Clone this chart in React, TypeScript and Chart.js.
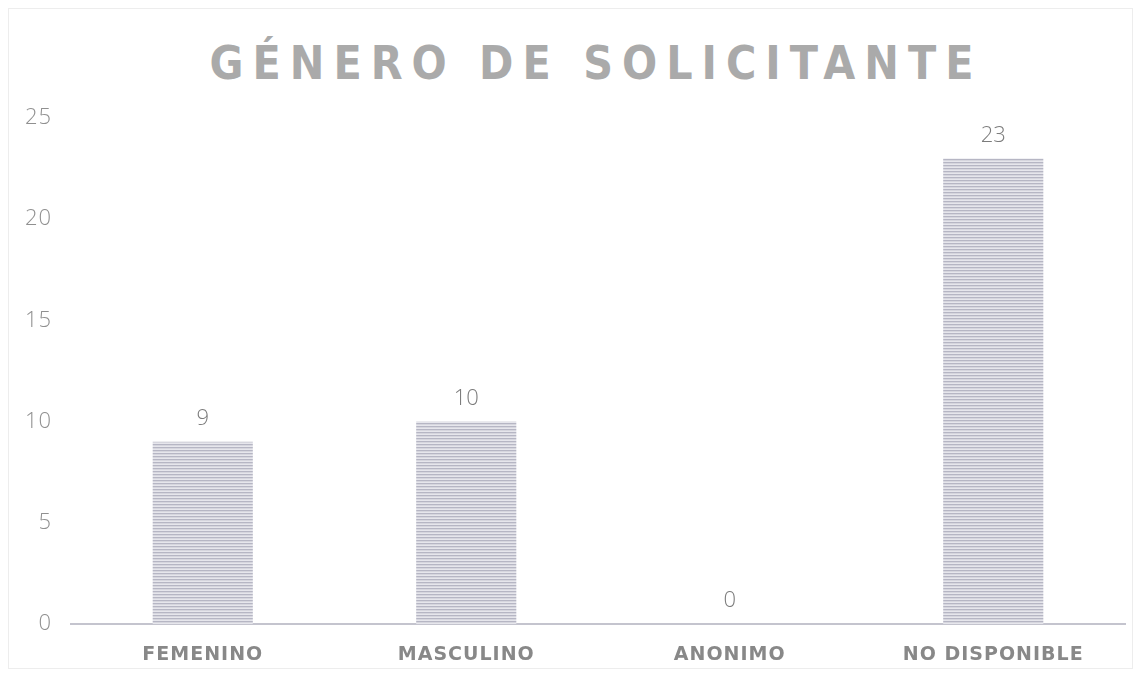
import React, { useEffect, useRef } from "react";
import { Chart, registerables } from "chart.js";

Chart.register(...registerables);

const TITLE = "GÉNERO DE SOLICITANTE";
const categories = ["FEMENINO", "MASCULINO", "ANONIMO", "NO DISPONIBLE"];
const values = [9, 10, 0, 23];
const yTicks = [0, 5, 10, 15, 20, 25];

function makePattern(): CanvasPattern | string {
  const c = document.createElement("canvas");
  c.width = 4;
  c.height = 3;
  const g = c.getContext("2d");
  if (!g) return "#cccad6";
  g.fillStyle = "#b6b6c4";
  g.fillRect(0, 0, 4, 1);
  g.fillStyle = "#d6d6de";
  g.fillRect(0, 1, 4, 1);
  g.fillStyle = "#e6e6ec";
  g.fillRect(0, 2, 4, 1);
  return g.createPattern(c, "repeat") || "#cccad6";
}

const spacing = {
  id: "axisSpacing",
  beforeDraw(chart: any) {
    (chart.ctx as any).letterSpacing = "1px";
  },
  beforeDatasetsDraw(chart: any) {
    (chart.ctx as any).letterSpacing = "0px";
  },
};

const valueLabels = {
  id: "valueLabels",
  afterDatasetsDraw(chart: any) {
    const ctx = chart.ctx;
    const meta = chart.getDatasetMeta(0);
    ctx.save();
    (ctx as any).letterSpacing = "0px";
    ctx.font = "300 22px 'Open Sans'";
    ctx.fillStyle = "#7c7c7c";
    ctx.textAlign = "center";
    ctx.textBaseline = "middle";
    meta.data.forEach((bar: any, i: number) => {
      ctx.fillText(String(values[i]), bar.x, bar.y - 23);
    });
    ctx.restore();
  },
};

export default function App() {
  const ref = useRef<HTMLCanvasElement | null>(null);
  useEffect(() => {
    if (!ref.current) return;
    const pattern = makePattern();
    const chart = new Chart(ref.current, {
      type: "bar",
      data: {
        labels: categories,
        datasets: [
          {
            data: values,
            backgroundColor: pattern as any,
            borderWidth: 0,
            barPercentage: 0.38,
            categoryPercentage: 1,
          },
        ],
      },
      options: {
        responsive: false,
        animation: false,
        maintainAspectRatio: false,
        layout: { padding: { top: 109, right: 7, left: 0, bottom: 0 } },
        plugins: {
          legend: { display: false },
          title: { display: false },
          tooltip: { enabled: false },
        },
        scales: {
          x: {
            grid: { display: false, drawTicks: false },
            border: { display: true, color: "#c4c4ce", width: 2 },
            ticks: {
              padding: 20,
              color: "#888888",
              font: { family: "DejaVu Sans", size: 19, weight: "bold" },
            },
            afterFit: (s: any) => {
              s.height = 44;
            },
          },
          y: {
            min: 0,
            max: 25,
            grid: { display: false, drawTicks: false },
            border: { display: false },
            afterBuildTicks: (s: any) => {
              s.ticks = yTicks.map((v) => ({ value: v }));
            },
            ticks: {
              padding: 19,
              color: "#909090",
              font: { family: "Open Sans", size: 22, weight: "300" },
            },
            afterFit: (s: any) => {
              s.width = 62;
            },
          },
        },
      },
      plugins: [spacing, valueLabels],
    });
    return () => chart.destroy();
  }, []);

  return (
    <div
      style={{
        position: "relative",
        width: 1125,
        height: 661,
        boxSizing: "border-box",
        border: "1px solid #ededed",
        background: "#fff",
      }}
    >
      <div
        style={{
          position: "absolute",
          left: 58,
          right: 7,
          top: 31,
          textAlign: "center",
          fontFamily: "'DejaVu Sans Condensed', 'DejaVu Sans'",
          fontWeight: "bold",
          fontSize: 46,
          lineHeight: "46px",
          letterSpacing: 9,
          color: "#aaaaaa",
          whiteSpace: "nowrap",
        }}
      >
        {TITLE}
      </div>
      <canvas
        ref={ref}
        width={1123}
        height={659}
        style={{ position: "absolute", left: 0, top: 0, width: 1123, height: 659 }}
      />
    </div>
  );
}
